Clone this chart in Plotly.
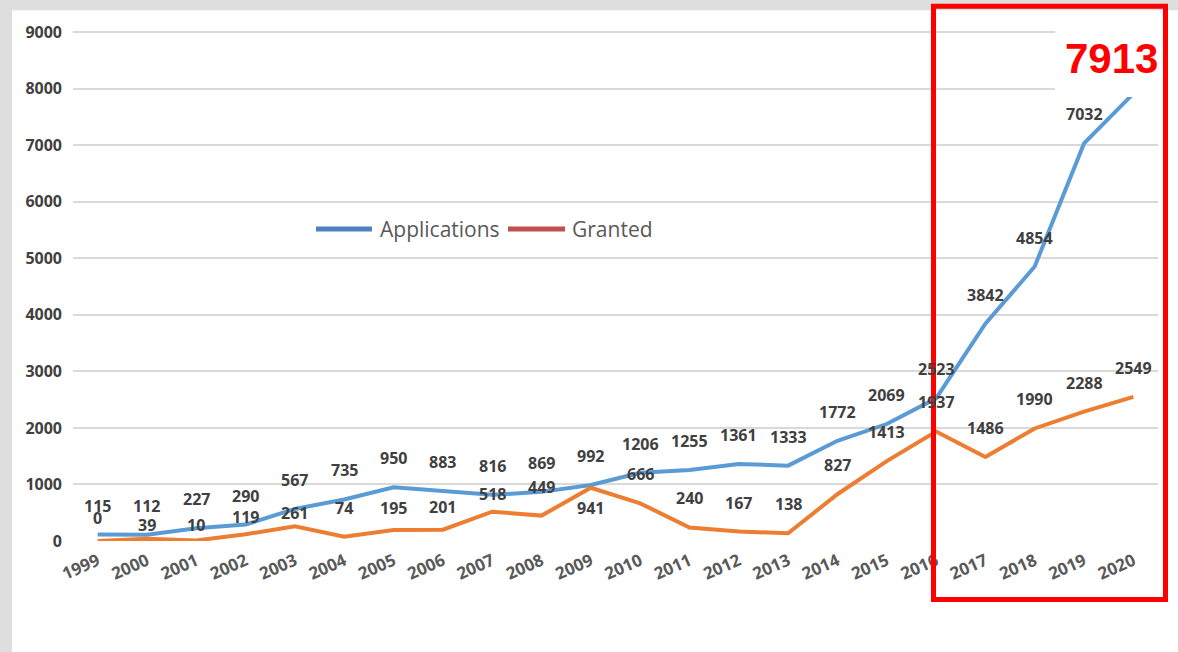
import plotly.graph_objects as go

years = [str(y) for y in range(1999, 2021)]
applications = [115, 112, 227, 290, 567, 735, 950, 883, 816, 869, 992,
                1206, 1255, 1361, 1333, 1772, 2069, 2523, 3842, 4854, 7032, 7913]
granted = [0, 39, 10, 119, 261, 74, 195, 201, 518, 449, 941,
           666, 240, 167, 138, 827, 1413, 1937, 1486, 1990, 2288, 2549]
y_ticks = [0, 1000, 2000, 3000, 4000, 5000, 6000, 7000, 8000, 9000]

# label vertical offsets (px) – styling only
DEFAULT_SHIFT = 29
granted_shift = {"1999": 23, "2000": 14, "2001": 15, "2002": 17, "2003": 13,
                 "2005": 22, "2006": 23, "2007": 18, "2009": -20}

W, H = 1178, 652
Y_MAX = 9020
L, R, B = 73, 1158, 541
T = B - (B - 32) * Y_MAX / 9000.0


def px(x):
    return (x - L) / (R - L)


def py(y):
    return (B - y) / (B - T)


BLUE = "#5b9bd5"
ORANGE = "#ed7d31"
LABEL_FONT = dict(family="Open Sans", size=16, color="#404040", weight="bold")

fig = go.Figure()
fig.add_trace(go.Scatter(x=years, y=applications, mode="lines",
                         line=dict(color=BLUE, width=4), showlegend=False,
                         hoverinfo="skip"))
fig.add_trace(go.Scatter(x=years, y=granted, mode="lines",
                         line=dict(color=ORANGE, width=4), showlegend=False,
                         hoverinfo="skip"))

annotations = []
for i, v in enumerate(applications[:-1]):
    annotations.append(dict(x=i, y=v, xref="x", yref="y", text=str(v),
                            showarrow=False, yshift=DEFAULT_SHIFT, font=LABEL_FONT))
for i, (yr, v) in enumerate(zip(years, granted)):
    annotations.append(dict(x=i, y=v, xref="x", yref="y", text=str(v),
                            showarrow=False, yshift=granted_shift.get(yr, DEFAULT_SHIFT),
                            font=LABEL_FONT))

# Highlighted last value
annotations.append(dict(x=px(1111), y=py(58), xref="paper", yref="paper",
                        xanchor="center", yanchor="middle",
                        text=str(applications[-1]), showarrow=False,
                        font=dict(family="Liberation Sans", size=42, color="#ff0000",
                                  weight="bold")))

# Manual legend
annotations.append(dict(x=px(378), y=py(229), xref="paper", yref="paper",
                        xanchor="left", yanchor="middle", text="Applications",
                        showarrow=False,
                        font=dict(family="Open Sans", size=21, color="#595959")))
annotations.append(dict(x=px(570), y=py(229), xref="paper", yref="paper",
                        xanchor="left", yanchor="middle", text="Granted",
                        showarrow=False,
                        font=dict(family="Open Sans", size=21, color="#595959")))

shapes = [
    # white card
    dict(type="rect", xref="paper", yref="paper", x0=px(12), x1=px(W + 5),
         y0=py(H + 5), y1=py(10), fillcolor="white", line=dict(width=0), layer="below"),
    # white patch over the top-right corner (hides gridlines and line tip)
    dict(type="rect", xref="paper", yref="paper", x0=px(1055), x1=px(1163),
         y0=py(97), y1=py(12), fillcolor="white", line=dict(width=0), layer="above"),
    # legend swatches
    dict(type="line", xref="paper", yref="paper", x0=px(316), x1=px(372),
         y0=py(229), y1=py(229), line=dict(color="#4f81bd", width=5), layer="above"),
    dict(type="line", xref="paper", yref="paper", x0=px(508), x1=px(565),
         y0=py(229), y1=py(229), line=dict(color="#c0504d", width=5), layer="above"),
    # red highlight box
    dict(type="rect", xref="paper", yref="paper", x0=px(933.5), x1=px(1165.5),
         y0=py(599.5), y1=py(6), line=dict(color="#ff0000", width=5),
         fillcolor="rgba(0,0,0,0)", layer="above"),
]

fig.update_layout(
    width=W, height=H,
    margin=dict(l=L, r=W - R, t=T, b=H - B),
    paper_bgcolor="#dedede",
    plot_bgcolor="rgba(0,0,0,0)",
    showlegend=False,
    annotations=annotations,
    shapes=shapes,
    xaxis=dict(type="category", range=[-0.5, len(years) - 0.5], showgrid=False,
               showline=False, ticks="", tickangle=-24, ticklabelstandoff=6,
               tickfont=dict(family="Open Sans", size=17, color="#595959", weight="bold"),
               fixedrange=True),
    yaxis=dict(range=[0, Y_MAX], tickvals=y_ticks, showgrid=True,
               gridcolor="#d9d9d9", gridwidth=2, zeroline=False, showline=False,
               ticklabelstandoff=10,
               tickfont=dict(family="Open Sans", size=16, color="#404040", weight="bold"),
               fixedrange=True),
)

fig.write_html("out.html", config={"displayModeBar": False},
               post_script="document.body.style.margin='0';document.body.style.overflow='hidden';")
